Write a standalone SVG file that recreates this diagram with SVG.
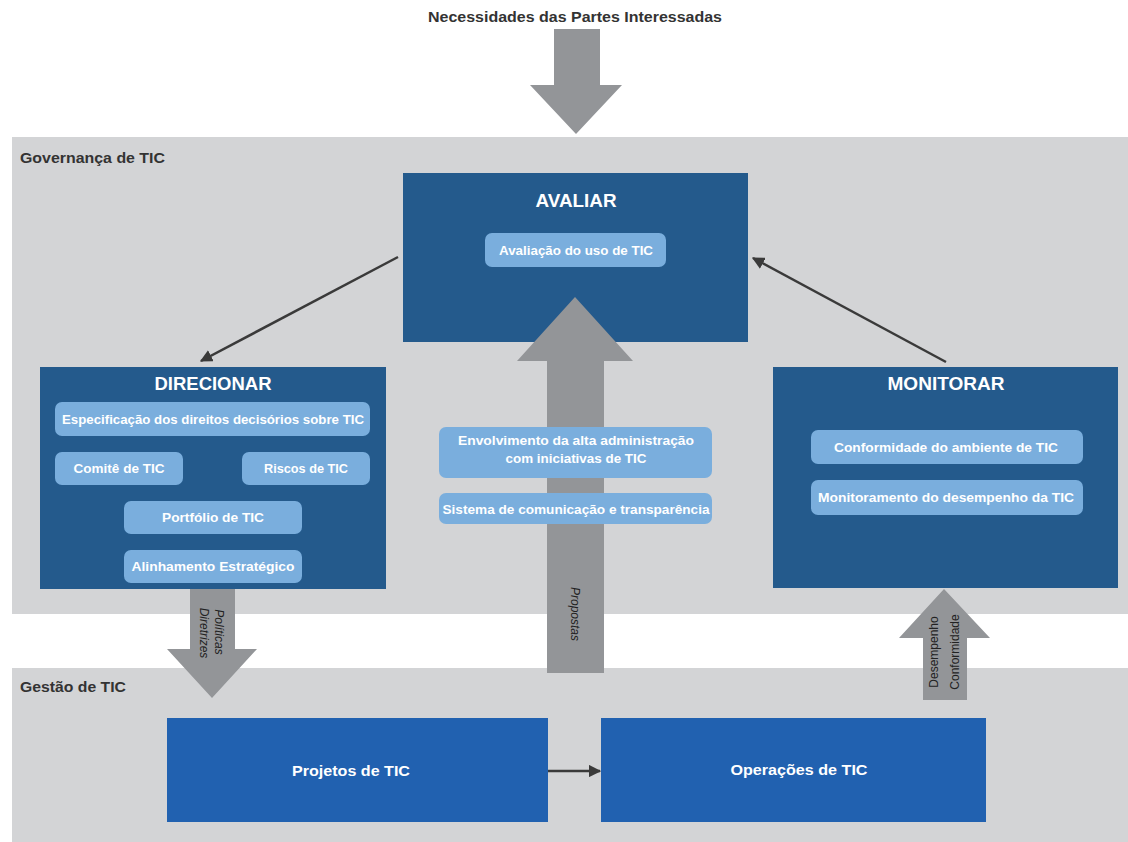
<svg xmlns="http://www.w3.org/2000/svg" width="1128" height="842" viewBox="0 0 1128 842">
<defs>
<style>
.band{fill:#d3d4d6}
.box{fill:#245a8c}
.gbox{fill:#2161b0}
.pill{fill:#7aaedd}
.garrow{fill:#939598}
.lbl{font-family:"Liberation Sans",Arial,sans-serif;font-weight:bold;fill:#333333;font-size:15px}
.title{font-family:"Liberation Sans",Arial,sans-serif;font-weight:bold;fill:#ffffff;font-size:18px;text-anchor:middle}
.pt{font-family:"Liberation Sans",Arial,sans-serif;font-weight:bold;fill:#ffffff;font-size:13px;text-anchor:middle;dominant-baseline:central}
.bt{font-family:"Liberation Sans",Arial,sans-serif;font-weight:bold;fill:#ffffff;font-size:15px;text-anchor:middle;dominant-baseline:central}
.vt{font-family:"Liberation Sans",Arial,sans-serif;font-style:italic;fill:#222222;font-size:12px;text-anchor:middle;dominant-baseline:central}
.vn{font-family:"Liberation Sans",Arial,sans-serif;fill:#222222;font-size:12px;text-anchor:middle;dominant-baseline:central}
.conn{stroke:#3a3a3a;stroke-width:2.5;fill:none}
</style>
<marker id="ah" viewBox="0 0 10 10" refX="9" refY="5" markerWidth="5" markerHeight="5" orient="auto" markerUnits="strokeWidth">
<path d="M0,0 L10,5 L0,10 z" fill="#3a3a3a"/>
</marker>
</defs>
<rect width="1128" height="842" fill="#ffffff"/>

<g id="bands">
<rect class="band" x="12" y="137" width="1116" height="477"/>
<rect class="band" x="12" y="668" width="1116" height="174"/>
<text class="lbl" x="20" y="163" textLength="145" lengthAdjust="spacingAndGlyphs">Governança de TIC</text>
<text class="lbl" x="20" y="692" textLength="106" lengthAdjust="spacingAndGlyphs">Gestão de TIC</text>
</g>

<g id="necessidades">
<text class="lbl" x="428" y="22" textLength="294" lengthAdjust="spacingAndGlyphs">Necessidades das Partes Interessadas</text>
<path class="garrow" d="M554,29 L600,29 L600,85 L622,85 L576,134 L530,85 L554,85 z"/>
</g>

<g id="avaliar">
<rect class="box" x="403" y="173" width="345" height="169"/>
<text class="title" x="576" y="207" textLength="81" lengthAdjust="spacingAndGlyphs">AVALIAR</text>
<rect class="pill" x="485" y="233" width="181" height="34" rx="7"/>
<text class="pt" x="576" y="250" textLength="154" lengthAdjust="spacingAndGlyphs">Avaliação do uso de TIC</text>
</g>

<g id="propostas">
<path class="garrow" d="M547,673 L547,361 L517,361 L575,297 L633,361 L604,361 L604,673 z"/>
<text class="vt" transform="translate(575,614) rotate(90)">Propostas</text>
</g>

<g id="centro">
<rect class="pill" x="439" y="427" width="273" height="51" rx="7"/>
<text class="pt" x="576" y="440" textLength="236" lengthAdjust="spacingAndGlyphs">Envolvimento da alta administração</text>
<text class="pt" x="576" y="458" textLength="141" lengthAdjust="spacingAndGlyphs">com iniciativas de TIC</text>
<rect class="pill" x="439" y="493" width="273" height="31" rx="7"/>
<text class="pt" x="576" y="509" textLength="267" lengthAdjust="spacingAndGlyphs">Sistema de comunicação e transparência</text>
</g>

<g id="direcionar">
<rect class="box" x="40" y="367" width="346" height="222"/>
<text class="title" x="213" y="390" textLength="117" lengthAdjust="spacingAndGlyphs">DIRECIONAR</text>
<rect class="pill" x="55" y="402" width="315" height="34" rx="7"/>
<text class="pt" x="213" y="419" textLength="302" lengthAdjust="spacingAndGlyphs">Especificação dos direitos decisórios sobre TIC</text>
<rect class="pill" x="55" y="452" width="128" height="33" rx="7"/>
<text class="pt" x="119" y="468" textLength="91" lengthAdjust="spacingAndGlyphs">Comitê de TIC</text>
<rect class="pill" x="242" y="452" width="128" height="33" rx="7"/>
<text class="pt" x="306" y="468" textLength="84" lengthAdjust="spacingAndGlyphs">Riscos de TIC</text>
<rect class="pill" x="124" y="501" width="178" height="33" rx="7"/>
<text class="pt" x="213" y="517" textLength="102" lengthAdjust="spacingAndGlyphs">Portfólio de TIC</text>
<rect class="pill" x="124" y="550" width="178" height="33" rx="7"/>
<text class="pt" x="213" y="566" textLength="163" lengthAdjust="spacingAndGlyphs">Alinhamento Estratégico</text>
</g>

<g id="monitorar">
<rect class="box" x="773" y="367" width="345" height="221"/>
<text class="title" x="946" y="390" textLength="117" lengthAdjust="spacingAndGlyphs">MONITORAR</text>
<rect class="pill" x="811" y="430" width="272" height="34" rx="7"/>
<text class="pt" x="946" y="447" textLength="224" lengthAdjust="spacingAndGlyphs">Conformidade do ambiente de TIC</text>
<rect class="pill" x="811" y="480" width="272" height="35" rx="7"/>
<text class="pt" x="946" y="497" textLength="256" lengthAdjust="spacingAndGlyphs">Monitoramento do desempenho da TIC</text>
</g>

<g id="politicas">
<path class="garrow" d="M190,589 L235,589 L235,649 L257,649 L212,698 L167,649 L190,649 z"/>
<text class="vt" transform="translate(219,632) rotate(90)">Políticas</text>
<text class="vt" transform="translate(204,633) rotate(90)">Diretrizes</text>
</g>

<g id="desempenho">
<path class="garrow" d="M923,700 L923,638 L899,638 L944,589 L990,638 L967,638 L967,700 z"/>
<text class="vn" transform="translate(934,652) rotate(-90)">Desempenho</text>
<text class="vn" transform="translate(955,652) rotate(-90)">Conformidade</text>
</g>

<g id="projetos">
<rect class="gbox" x="167" y="718" width="381" height="104"/>
<text class="bt" x="351" y="770" textLength="118" lengthAdjust="spacingAndGlyphs">Projetos de TIC</text>
</g>

<g id="operacoes">
<rect class="gbox" x="601" y="718" width="385" height="104"/>
<text class="bt" x="799" y="769" textLength="137" lengthAdjust="spacingAndGlyphs">Operações de TIC</text>
</g>

<g id="connectors">
<line class="conn" x1="398" y1="257" x2="201" y2="361" marker-end="url(#ah)"/>
<line class="conn" x1="946" y1="362" x2="753" y2="258" marker-end="url(#ah)"/>
<line class="conn" x1="548" y1="771" x2="600" y2="771" marker-end="url(#ah)"/>
</g>
</svg>
